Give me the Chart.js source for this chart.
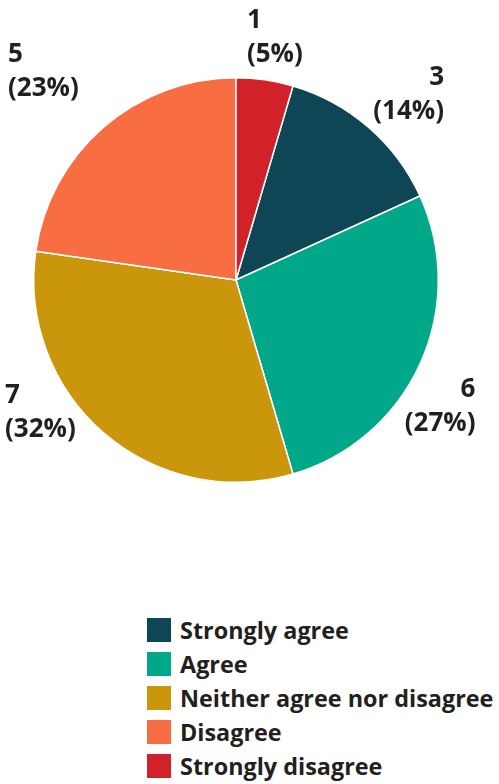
<!DOCTYPE html>
<html>
<head>
<meta charset="utf-8">
<script src="https://cdn.jsdelivr.net/npm/chart.js@4/dist/chart.umd.min.js"></script>
<style>
  html, body { margin: 0; padding: 0; background: #fff; }
  #wrap { position: relative; width: 499px; height: 784px; overflow: hidden; }
  #chartBox { position: absolute; left: 0; top: 0; width: 499px; height: 580px; }
  #legend { position: absolute; left: 147px; top: 613px; font-family: "Open Sans", sans-serif; font-weight: 700; font-size: 23.4px; color: #231f20; }
  .item { display: flex; align-items: center; height: 34px; }
  .box { width: 24px; height: 24px; margin-right: 9px; flex: none; }
</style>
</head>
<body>
<div id="wrap">
  <div id="chartBox"><canvas id="pie"></canvas></div>
  <div id="legend"></div>
</div>
<script>
// datos del gráfico
const categories = ["Strongly agree", "Agree", "Neither agree nor disagree", "Disagree", "Strongly disagree"];
const counts = [3, 6, 7, 5, 1];
const percents = [14, 27, 32, 23, 5];
const colors = ["#0e4656", "#00a789", "#c9960c", "#f96d43", "#d12229"];

// ajustes finos de la posición de las etiquetas (px)
const labelNudge = [[12, 0], [-19, 25], [-35, -53], [-32, -23], [4, 0]];

const total = counts.reduce((a, b) => a + b, 0);
// la porción "Strongly disagree" empieza arriba, así que giramos el resto
const startRotation = counts[counts.length - 1] / total * 360;

const outsideLabels = {
    id: 'outsideLabels',
    afterDatasetsDraw(chart) {
        const ctx = chart.ctx;
        const meta = chart.getDatasetMeta(0);
        ctx.save();
        ctx.font = '700 26px "Open Sans", sans-serif';
        ctx.fillStyle = '#231f20';
        ctx.textBaseline = 'middle';
        meta.data.forEach((arc, i) => {
            const mid = (arc.startAngle + arc.endAngle) / 2;
            const r = arc.outerRadius + 43;
            const x = arc.x + Math.cos(mid) * r + labelNudge[i][0];
            const y = arc.y + Math.sin(mid) * r + labelNudge[i][1];
            const lines = [String(counts[i]), '(' + percents[i] + '%)'];
            const w = Math.max(...lines.map(l => ctx.measureText(l).width));
            const right = x > arc.x + 50;
            ctx.textAlign = right ? 'right' : 'left';
            const tx = right ? x + w / 2 : x - w / 2;
            ctx.fillText(lines[0], tx, y - 17);
            ctx.fillText(lines[1], tx, y + 17);
        });
        ctx.restore();
    }
};

const ctx = document.getElementById('pie').getContext('2d');
const pieChart = new Chart(ctx, {
    type: 'pie',
    data: {
        labels: categories,
        datasets: [{
            data: counts,
            backgroundColor: colors,
            borderColor: '#ffffff',
            borderWidth: 1.5
        }]
    },
    options: {
        responsive: true,
        maintainAspectRatio: false,
        animation: false,
        rotation: startRotation,
        layout: { padding: { left: 33, right: 60, top: 77, bottom: 97 } },
        plugins: {
            legend: { display: false },
            tooltip: { enabled: false }
        }
    },
    plugins: [outsideLabels]
});

// leyenda en HTML, una fila por categoría
const legend = document.getElementById('legend');
categories.forEach((name, i) => {
    const row = document.createElement('div');
    row.className = 'item';
    const box = document.createElement('span');
    box.className = 'box';
    box.style.background = colors[i];
    const txt = document.createElement('span');
    txt.textContent = name;
    row.appendChild(box);
    row.appendChild(txt);
    legend.appendChild(row);
});
</script>
</body>
</html>
